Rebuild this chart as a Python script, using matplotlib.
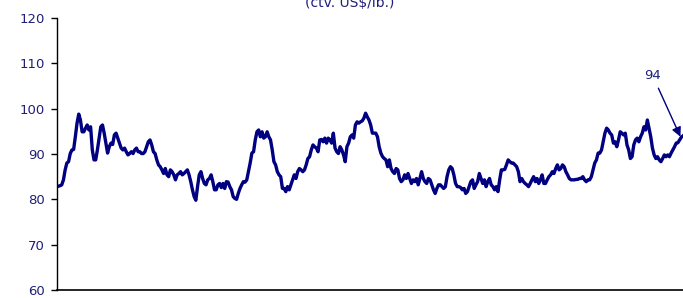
import numpy as np
import matplotlib
matplotlib.use("Agg")
import matplotlib.pyplot as plt

# copper-like price series, ctv. US$/lb.
price = [
    82.9, 83.0, 83.2, 84.3, 86.5, 88.0, 88.3, 90.1, 90.9, 91.0, 93.8, 96.8, 98.8, 97.5,
    94.9, 94.9, 95.7, 96.4, 95.3, 96.0, 90.9, 88.7, 88.7, 90.9, 93.5, 96.0, 96.4, 94.6,
    92.4, 90.2, 91.6, 92.4, 92.1, 94.2, 94.6, 93.5, 92.4, 91.3, 90.9, 91.3, 90.5, 89.8,
    90.1, 90.5, 90.1, 90.9,
    91.3, 90.5, 90.5, 90.1, 90.1, 90.5, 91.6, 92.7, 93.1, 92.0, 90.5, 90.1, 88.7, 87.6,
    87.2, 86.5, 85.7, 86.8, 85.4, 85.0, 86.5, 86.1, 85.4, 84.3, 85.4, 85.7, 86.1, 85.4,
    85.7, 86.1, 86.5, 85.4, 83.9, 82.1, 80.6, 79.8, 82.8, 85.4, 86.1, 84.6, 83.5, 83.2,
    84.3, 84.6, 85.4, 83.9, 82.1, 82.1, 83.2,
    83.5, 82.6, 83.5, 82.4, 83.9, 83.8, 82.8, 82.1, 80.6, 80.2, 80.0, 81.3, 82.4, 83.2,
    83.9, 83.8, 84.3, 86.1, 88.0, 90.2, 90.5, 93.1, 94.9, 95.3, 93.8, 94.9, 93.5, 93.8,
    94.9, 93.8, 93.1, 90.9, 88.3, 87.6, 86.1, 85.4, 85.0, 82.4, 82.4, 81.7, 82.8, 82.1,
    83.2, 84.3, 85.4, 84.6, 86.1, 86.8,
    86.5, 86.1, 86.5, 87.6, 89.0, 89.4, 90.9, 92.0, 91.6, 91.3, 90.5, 93.1, 93.2, 92.7,
    93.5, 92.4, 93.5, 93.1, 92.4, 94.6, 91.3, 90.5, 90.1, 91.6, 90.9, 89.8, 88.3, 91.6,
    92.4, 93.8, 94.2, 93.5, 96.4, 97.1, 96.8, 97.1, 97.3, 97.9, 99.0, 98.2, 97.5, 96.4,
    94.6, 94.6, 94.6, 93.8, 91.6, 90.2,
    89.4, 89.0, 88.7, 87.2, 88.7, 86.8, 86.1, 85.7, 86.8, 86.5, 84.6, 83.9, 84.3, 85.4,
    84.6, 85.7, 84.6, 83.5, 84.3, 83.9, 84.6, 83.2, 84.6, 86.1, 84.6, 83.9, 83.5, 84.6,
    84.3, 83.2, 82.1, 81.3, 82.4, 83.2, 83.2, 82.8, 82.4, 82.8, 85.0, 86.5, 87.2, 86.8,
    85.4, 83.5, 82.8, 82.8, 82.6, 82.1,
    82.4, 81.3, 81.7, 82.8, 83.9, 84.3, 82.4, 83.2, 83.9, 85.7, 84.6, 83.5, 84.3, 82.8,
    83.9, 84.6, 83.2, 82.8, 82.1, 82.8, 81.7, 84.3, 86.5, 86.5, 86.6, 87.6, 88.7, 88.3,
    88.0, 88.0, 87.6, 87.2, 86.1, 83.9, 84.6, 83.9, 83.5, 83.2, 82.8, 83.5, 84.3, 85.0,
    83.9, 84.6, 83.5, 84.3, 85.4, 83.5,
    83.5, 84.3, 85.0, 85.4, 86.1, 85.7, 86.8, 87.6, 86.5, 86.8, 87.6, 87.2, 86.1, 85.4,
    84.6, 84.3, 84.3, 84.3, 84.4, 84.4, 84.6, 84.6, 85.0, 84.3, 83.9, 84.3, 84.3, 85.0,
    86.5, 88.0, 88.7, 90.2, 90.2, 90.9, 92.7, 94.6, 95.7, 95.3, 94.6, 94.2, 92.4, 92.7,
    91.6, 93.1, 94.9, 94.6, 94.2, 94.6,
    92.0, 90.9, 89.0, 89.4, 92.0, 93.1, 93.5, 92.7, 93.8, 94.6, 96.0, 95.3, 97.5, 95.7,
    93.8, 91.3, 89.8, 89.0, 89.4, 88.7, 88.3, 89.0, 89.8, 89.4, 89.8, 89.4, 90.2, 90.9,
    91.6, 92.4, 92.5, 93.1, 93.7, 94.0,
]
last_label = "94"
unit_title = "(ctv. US$/lb.)"
yticks = [60, 70, 80, 90, 100, 110, 120]

navy = "#000080"
label_col = "#1f1f7a"

x = np.arange(len(price))

fig = plt.figure(figsize=(6.83, 2.98), dpi=100)
ax = fig.add_axes([57 / 683, 1 - 290 / 298, 1 - 57 / 683, (290 - 18) / 298])

ax.plot(x, price, color=navy, lw=2.4, solid_joinstyle="round")

ax.set_ylim(60, 120)
ax.set_xlim(-0.8, x[-1])
ax.set_yticks(yticks)
ax.set_xticks([])
ax.tick_params(axis="y", direction="out", length=4, width=1, colors="black",
               labelcolor=label_col, labelsize=9.5, pad=5)
for s in ("top", "right"):
    ax.spines[s].set_visible(False)
ax.spines["left"].set_linewidth(1)
ax.spines["bottom"].set_linewidth(1.2)

# arrow to last value
ax.annotate(last_label, xy=(x[-1] - 1.5, price[-1] - 0.2),
            xytext=(x[-1] - 18, 107.4), textcoords="data",
            ha="center", va="center", color=label_col, fontsize=9.5,
            arrowprops=dict(arrowstyle="-|>", color=navy, lw=1,
                            mutation_scale=14, shrinkA=3, shrinkB=0),
            annotation_clip=False)

fig.text(350 / 683, 1 - 7 / 298, unit_title, ha="center", va="baseline",
         color=label_col, fontsize=10)

fig.savefig("out.png", dpi=100)
